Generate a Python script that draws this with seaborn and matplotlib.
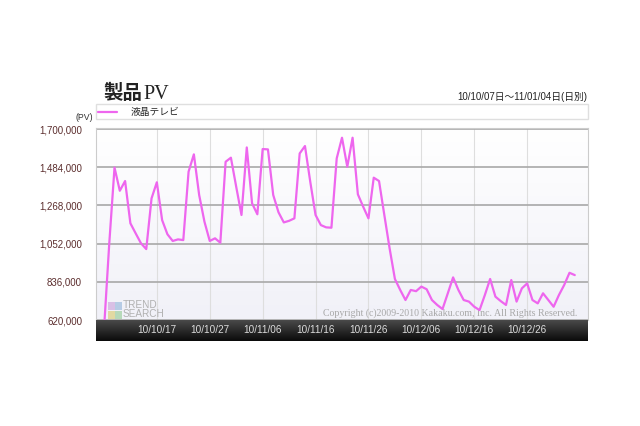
import numpy as np
import pandas as pd
import matplotlib
matplotlib.use('Agg')
import matplotlib.pyplot as plt
import matplotlib.dates as mdates
from matplotlib.patches import Rectangle
import seaborn as sns

# daily page views, 10/10/07 - 11/01/04
start_date = '2010-10-07'
pv = [560000, 1050000, 1482000, 1351000, 1406000, 1167000, 1110000, 1054000, 1021000, 1308000,
      1399000, 1185000, 1105000, 1067000, 1076000, 1072000, 1459000, 1557000, 1327000, 1176000,
      1067000, 1082000, 1057000, 1515000, 1538000, 1374000, 1214000, 1596000, 1280000, 1218000,
      1587000, 1585000, 1327000, 1229000, 1172000, 1181000, 1195000, 1562000, 1604000, 1402000,
      1214000, 1157000, 1144000, 1142000, 1534000, 1651000, 1487000, 1651000, 1331000, 1261000,
      1195000, 1425000, 1406000, 1214000, 1025000, 852000, 790000, 733000, 790000, 783000,
      809000, 794000, 733000, 705000, 682000, 771000, 861000, 790000, 733000, 724000,
      695000, 676000, 761000, 852000, 752000, 727000, 705000, 846000, 724000, 799000,
      827000, 733000, 714000, 771000, 733000, 695000, 761000, 818000, 887000, 874000]
series_name = '液晶テレビ'
y_ticks = [620000, 836000, 1052000, 1268000, 1484000, 1700000]
tick_days = [10, 20, 30, 40, 50, 60, 70, 80]

dates = pd.date_range(start_date, periods=len(pv), freq='D')
df = pd.DataFrame({'date': dates, 'pv': pv})

sns.set_theme(style='white')
plt.rcParams['font.family'] = ['Liberation Sans', 'Noto Sans CJK JP', 'DejaVu Sans']

fig = plt.figure(figsize=(6.4, 4.26), dpi=100)
ax = fig.add_axes([96/640, 1-320/426, 492/640, 192/426])
band = fig.add_axes([96/640, 1-341/426, 492/640, 21/426], sharex=ax)

# soft background gradient
grad = np.linspace(0, 1, 100).reshape(-1, 1)
ax.imshow(grad, extent=(0, 1, 0, 1), transform=ax.transAxes, aspect='auto',
          cmap=matplotlib.colors.LinearSegmentedColormap.from_list('bg', ['#ffffff', '#f1f1f8']),
          zorder=0)

sns.lineplot(data=df, x='date', y='pv', ax=ax, color='#ee66ee', lw=1.6, label=series_name, zorder=3)

ax.set_xlim(dates[0] - pd.Timedelta(days=1.5), dates[-1] + pd.Timedelta(days=2.5))
ax.set_ylim(620000, 1706000)
ax.set_yticks(y_ticks)
ax.set_yticklabels([f'{v:,}' for v in y_ticks], fontsize=7, color='#5c2e2e')
ax.set_xticks([dates[0]] + [dates[d] for d in tick_days])
ax.tick_params(axis='x', labelbottom=False, bottom=False)
ax.tick_params(axis='y', left=False, pad=4)
ax.grid(axis='y', color='#a8a8a8', lw=1.2, zorder=1)
ax.grid(axis='x', color='#dedede', lw=0.8, zorder=1)
ax.set_xlabel('')
ax.set_ylabel('')
for s in ax.spines.values():
    s.set_color('#cccccc')
    s.set_linewidth(0.8)

ax.legend(loc='lower left', bbox_to_anchor=(0, 1.045, 1, 0.075), mode='expand', frameon=True,
          fancybox=False, edgecolor='#d8d8d8', fontsize=7, handlelength=1.9, borderpad=0.25,
          handletextpad=1.4, borderaxespad=0)

# dark date band
band.imshow(grad, extent=(0, 1, 0, 1), transform=band.transAxes, aspect='auto',
            cmap=matplotlib.colors.LinearSegmentedColormap.from_list('bd', ['#0a0a0a', '#4a4a4a']),
            origin='lower', zorder=0)
band.set_yticks([])
band.set_xticks([dates[d] for d in tick_days])
band.xaxis.set_major_formatter(mdates.DateFormatter('%y/%m/%d'))
band.tick_params(axis='x', bottom=False, pad=-17.5, labelsize=7.2, labelcolor='#dcdcdc')
for s in band.spines.values():
    s.set_visible(False)

# watermarks
ax.text(0.978, 0.008, 'Copyright (c)2009-2010 Kakaku.com, Inc. All Rights Reserved.',
        transform=ax.transAxes, ha='right', va='bottom', fontsize=7.1,
        family='Liberation Serif', color='#a8a8a8', zorder=2)
for (dx, dy, c) in [(0, 0, '#d9c96a'), (7, 0, '#8fc98f'), (0, 9, '#c99fd9'), (7, 9, '#8fb3d9')]:
    ax.add_patch(Rectangle(((108 + dx - 96) / 492, (320 - 319 + dy) / 192), 7 / 492, 8 / 192,
                           transform=ax.transAxes, color=c, alpha=0.6, lw=0, zorder=2))
ax.text((123 - 96) / 492, (320 - 319) / 192, 'TREND\nSEARCH', transform=ax.transAxes,
        ha='left', va='bottom', fontsize=7.2, color='#b0b0b0', linespacing=0.9, zorder=2)

# titles
fig.text(103/640, 1-99/426, '製品', fontsize=14, fontweight='bold', color='#222222',
         family=['Noto Sans CJK JP'], va='baseline')
fig.text(143/640, 1-99/426, 'PV', fontsize=14.5, color='#222222',
         family=['Liberation Serif'], va='baseline')
fig.text(587/640, 1-97/426, '10/10/07日〜11/01/04日(日別)', fontsize=7, color='#222222',
         ha='right', va='center')
fig.text(93/640, 1-118/426, '(PV)', fontsize=6.3, color='#333333', ha='right', va='center')

fig.savefig('out.png', dpi=100)
